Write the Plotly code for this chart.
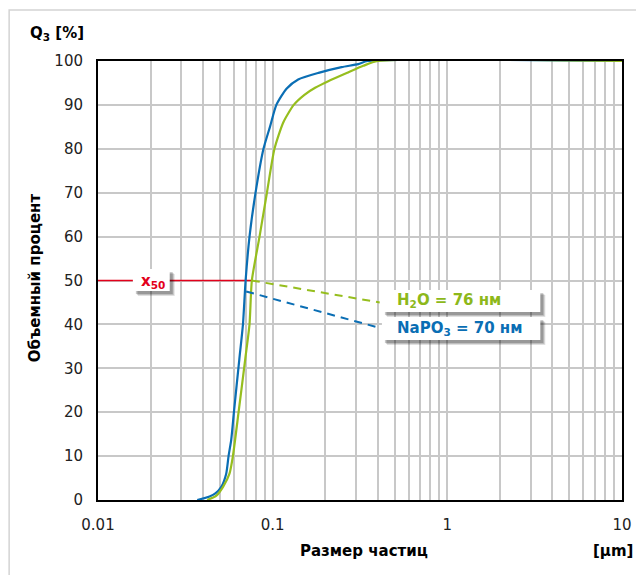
import plotly.graph_objects as go

# ---- data ----
# NaPO3 curve: particle size [µm] vs cumulative volume Q3 [%]
napo3_d = [0.037, 0.0435, 0.047, 0.0508, 0.0542, 0.0559, 0.0579, 0.0600, 0.0644, 0.0676,
           0.0700, 0.0737, 0.0798, 0.0886, 0.0965, 0.105, 0.120, 0.140, 0.183, 0.248,
           0.309, 0.35, 10]
napo3_q = [0, 0.8, 1.5, 3, 6, 10, 13.7, 20, 32, 40,
           50, 60, 70, 80, 85, 90, 93.7, 95.8, 97.3, 98.6,
           99.3, 100, 100]

# H2O curve
h2o_d = [0.0422, 0.0476, 0.052, 0.0566, 0.0592, 0.0638, 0.0696, 0.0737, 0.076, 0.0841,
         0.0927, 0.1024, 0.115, 0.132, 0.152, 0.175, 0.208, 0.27, 0.33, 0.40, 10]
h2o_q = [0, 1, 3, 6, 10, 20, 32, 40, 50, 60,
         70, 80, 86, 90, 92.3, 93.9, 95.4, 97.4, 98.9, 100, 100]

# x50 marker and callouts
x50_line_d = [0.01, 0.076]
x50_line_q = [50, 50]
callout_start_d = [0.076, 0.0705]   # H2O, NaPO3
callout_start_q = [50, 47.5]
callout_end_d = [0.41, 0.41]
callout_end_q = [45, 39.2]
callout_labels = ["H<sub>2</sub>O = 76 нм", "NaPO<sub>3</sub> = 70 нм"]

x_ticks = [0.01, 0.1, 1, 10]
x_tick_labels = ["0.01", "0.1", "1", "10"]
y_ticks = list(range(0, 101, 10))

# ---- styles ----
BLUE = "#0A6EB4"
GREEN = "#96BE1E"
GREEN_TXT = "#8DB81A"
RED = "#E3001B"
FONT = "DejaVu Sans"

OFF = 8  # page body margin
W, H = 644 - OFF, 575 - OFF
# plot area in page pixels
PL, PR, PT, PB = 98, 624, 61, 500
L, R, T, B = PL - OFF, PR - OFF, PT - OFF, PB - OFF


def px(x):
    return (x - PL) / (PR - PL)


def py(y):
    return (PB - y) / (PB - PT)


fig = go.Figure()

# red x50 line
fig.add_trace(go.Scatter(x=x50_line_d, y=x50_line_q, mode="lines",
                         line=dict(color=RED, width=1.6), hoverinfo="skip"))

# curves
fig.add_trace(go.Scatter(x=napo3_d, y=napo3_q, mode="lines", name="NaPO3",
                         line=dict(color=BLUE, width=2.2, shape="spline", smoothing=0.6)))
fig.add_trace(go.Scatter(x=h2o_d, y=h2o_q, mode="lines", name="H2O",
                         line=dict(color=GREEN, width=2.2, shape="spline", smoothing=0.6)))

# dashed callouts
for i, col in enumerate([GREEN, BLUE]):
    fig.add_trace(go.Scatter(x=[callout_start_d[i], callout_end_d[i]],
                             y=[callout_start_q[i], callout_end_q[i]],
                             mode="lines", line=dict(color=col, width=2, dash="8px,6px"),
                             hoverinfo="skip"))

# minor gridlines at 2..9 per decade
minor_vals = [m * 10 ** e for e in range(-2, 1) for m in range(2, 10)]

fig.update_xaxes(type="log", range=[-2, 1], tickvals=x_ticks, ticktext=x_tick_labels,
                 showgrid=True, gridcolor="#C8C8C8", gridwidth=1.5,
                 minor=dict(tickvals=minor_vals, showgrid=True, gridcolor="#C8C8C8",
                            gridwidth=1.5, ticks=""),
                 showline=True, linecolor="black", linewidth=2, mirror=True,
                 ticks="", ticklabelstandoff=10,
                 tickfont=dict(family=FONT, size=15, color="#222"), zeroline=False)
fig.update_yaxes(range=[0, 100], tickvals=y_ticks,
                 showgrid=True, gridcolor="#C8C8C8", gridwidth=1.5,
                 showline=True, linecolor="black", linewidth=2, mirror=True,
                 ticks="", ticklabelstandoff=10,
                 tickfont=dict(family=FONT, size=15, color="#222"), zeroline=False)

shapes = []
# outer light border
shapes.append(dict(type="rect", xref="paper", yref="paper",
                   x0=px(8.8), x1=px(660), y0=py(590), y1=py(10),
                   line=dict(color="#D4D4D4", width=1.5), fillcolor="rgba(0,0,0,0)",
                   layer="below"))


def shadow_box(x0, y0, x1, y1):
    for o, a in [(5, 0.12), (4, 0.15), (3, 0.2)]:
        shapes.append(dict(type="rect", xref="paper", yref="paper",
                           x0=px(x0 + o), x1=px(x1 + o), y0=py(y1 + o), y1=py(y0 + o),
                           line=dict(width=0), fillcolor=f"rgba(0,0,0,{a})", layer="above"))
    shapes.append(dict(type="rect", xref="paper", yref="paper",
                       x0=px(x0), x1=px(x1), y0=py(y1), y1=py(y0),
                       line=dict(width=0), fillcolor="white", layer="above"))


shadow_box(133, 269, 170, 291)
shadow_box(383, 290, 542, 312)
shadow_box(383, 317, 542, 340)

annotations = [
    dict(text="x<sub>50</sub>", x=px(139), y=py(281), xref="paper", yref="paper",
         xanchor="left", yanchor="middle", showarrow=False,
         font=dict(family=FONT, size=15, color=RED, weight="bold")),
    dict(text=callout_labels[0], x=px(396), y=py(300), xref="paper", yref="paper",
         xanchor="left", yanchor="middle", showarrow=False,
         font=dict(family=FONT, size=15, color=GREEN_TXT, weight="bold")),
    dict(text=callout_labels[1], x=px(396), y=py(328), xref="paper", yref="paper",
         xanchor="left", yanchor="middle", showarrow=False,
         font=dict(family=FONT, size=15, color=BLUE, weight="bold")),
    dict(text="Q<sub>3</sub> [%]", x=px(28), y=py(34), xref="paper", yref="paper",
         xanchor="left", yanchor="middle", showarrow=False,
         font=dict(family=FONT, size=15, color="black", weight="bold")),
    dict(text="Объемный процент", x=px(35), y=py(278), xref="paper", yref="paper",
         xanchor="center", yanchor="middle", showarrow=False, textangle=-90,
         font=dict(family=FONT, size=15, color="black", weight="bold")),
    dict(text="Размер частиц", x=px(365), y=py(551), xref="paper", yref="paper",
         xanchor="center", yanchor="middle", showarrow=False,
         font=dict(family=FONT, size=15, color="black", weight="bold")),
    dict(text="[µm]", x=px(637), y=py(551), xref="paper", yref="paper",
         xanchor="right", yanchor="middle", showarrow=False,
         font=dict(family=FONT, size=15, color="black", weight="bold")),
]

fig.update_layout(width=W, height=H, showlegend=False,
                  margin=dict(l=L, r=W - R, t=T, b=H - B),
                  plot_bgcolor="white", paper_bgcolor="white",
                  shapes=shapes, annotations=annotations,
                  font=dict(family=FONT))

fig.write_html("out.html")
